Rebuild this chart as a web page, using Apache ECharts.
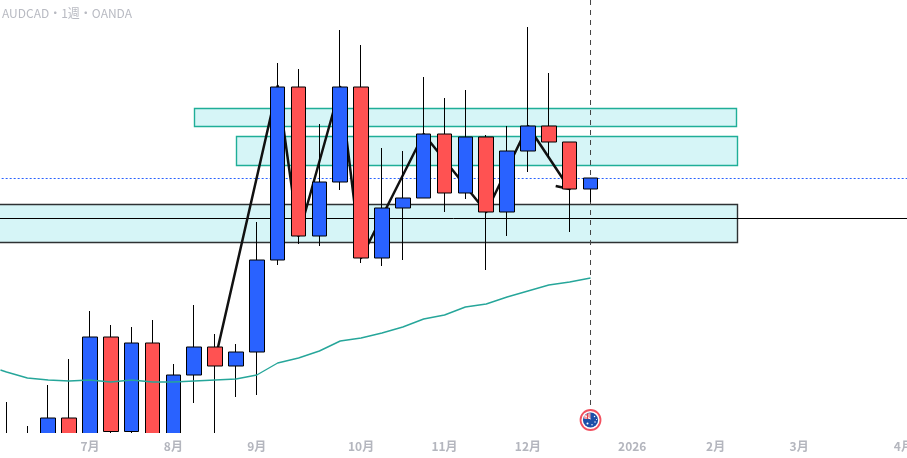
<!DOCTYPE html>
<html>
<head>
<meta charset="utf-8">
<style>html,body{margin:0;padding:0;background:#fff}#c{width:907px;height:458px}</style>
<script src="https://cdn.jsdelivr.net/npm/echarts@6/dist/echarts.min.js"></script>
</head>
<body>
<div id="c"></div>
<script>
const titleText = 'AUDCAD・1週・OANDA';
// one category per week, from the first visible candle out to the right edge
const tickLabels = {4:'7月',8:'8月',12:'9月',17:'10月',21:'11月',25:'12月',30:'2026',34:'2月',38:'3月',43:'4月'};
const weeks = Array.from({length:44},(_, i)=>'w'+i);
// [open, close, low, high]
const ohlc = [
 [.8560,.8620,.8540,.8696],[.8620,.8600,.8580,.8648],[.8600,.8664,.8580,.8730],[.8664,.8610,.8590,.8782],
 [.8610,.8826,.8590,.8878],[.8826,.8637,.8632,.8850],[.8637,.8814,.8632,.8846],[.8814,.8610,.8590,.8860],
 [.8610,.8750,.8590,.8772],[.8750,.8806,.8694,.8890],[.8806,.8768,.8620,.8832],[.8768,.8796,.8706,.8812],
 [.8796,.8980,.8710,.9056],[.8980,.9326,.8970,.9374],[.9326,.9028,.9012,.9362],[.9028,.9136,.9008,.9252],
 [.9136,.9326,.9120,.9440],[.9326,.8984,.8974,.9410],[.8984,.9084,.8968,.9204],[.9084,.9104,.8980,.9198],
 [.9104,.9232,.9104,.9346],[.9232,.9114,.9076,.9304],[.9114,.9226,.9102,.9320],[.9226,.9076,.8960,.9230],
 [.9076,.9198,.9028,.9248],[.9198,.9248,.9156,.9446],[.9248,.9216,.9186,.9354],[.9216,.9122,.9036,.9216],
 [.9122,.9144,.9096,.9144]
];
const zigzag = [[10,.8780],[13,.9328],[14,.9028],[16,.9326],[17,.8984],[20,.9232],[23,.9076],[25,.9248],[27,.9122],[26.33,.9128]];
const emaX = [-0.29,0,1,2,3,4,5,6,7,8,9,10,11,12,13,14,15,16,17,18,19,20,21,22,23,24,25,26,27,28];
const emaValues = [.8760,.8756,.8744,.8740,.8738,.8740,.8736,.8740,.8736,.8736,.8738,.8740,.8742,.8750,.8774,.8784,.8798,.8818,.8824,.8834,.8846,.8862,.8870,.8886,.8892,.8906,.8918,.8930,.8936,.8944];
// [x from, x to, price high, price low]
const tealZones = [[9,35,.9284,.9248],[11,35,.9228,.9170]];
const darkZones = [[-2,35,.9092,.9016]];
const lastPrice = .9143;
const crossPrice = .9063;
const cursorIndex = 28;
const cursorBottom = .8684;
const flagPrice = .8660;
const yMin = .8634, yMax = .9500;

const zoneSeries = (data, stroke, z) => ({
  type:'custom', xAxisIndex:1, yAxisIndex:0, z, silent:true, clip:true, data,
  renderItem(p, api){
    const a = api.coord([api.value(0), api.value(2)]), b = api.coord([api.value(1), api.value(3)]);
    return {type:'rect', shape:{x:Math.round(a[0])+.5, y:Math.round(a[1])+.5, width:Math.round(b[0]-a[0]), height:Math.round(b[1]-a[1])},
      style:{fill:'#d6f5f7', stroke, lineWidth:1.4}};
  },
  encode:{x:[0,1], y:[2,3]}
});

const chart = echarts.init(document.getElementById('c'), null, {renderer:'canvas'});
chart.setOption({
  animation:false,
  backgroundColor:'#ffffff',
  title:{text:titleText, left:2, top:7, padding:0, textStyle:{color:'#b8bac2', fontSize:12, fontWeight:'normal', fontFamily:'"Noto Sans CJK JP","Noto Sans",sans-serif'}},
  grid:{left:-3.9, width:917.7, top:0, height:433, containLabel:false, outerBoundsMode:'none'},
  xAxis:[
    {type:'category', z:10, data:weeks, boundaryGap:true, axisLine:{show:false}, axisTick:{show:false}, splitLine:{show:false},
     axisLabel:{interval:0, margin:7, color:'#b4b6be', fontSize:12, fontWeight:'bold', fontFamily:'"Noto Sans CJK JP","Noto Sans",sans-serif', hideOverlap:false,
       formatter:(v,i)=>tickLabels[i]||''}},
    {type:'value', min:-0.5, max:43.5, show:false}
  ],
  yAxis:{type:'value', min:yMin, max:yMax, show:false, scale:true},
  series:[
    zoneSeries(tealZones,'#1fae98',1),
    zoneSeries(darkZones,'#2e3133',1),
    {type:'line', xAxisIndex:1, z:2, symbol:'none', silent:true, data:[[-1,crossPrice],[44,crossPrice]], lineStyle:{color:'#000',width:1}},
    {type:'line', xAxisIndex:1, z:2, symbol:'none', silent:true, data:[[-1,lastPrice],[44,lastPrice]], lineStyle:{color:'#2962ff',width:1,type:[2,2]}},
    {type:'line', xAxisIndex:1, z:3, symbol:'none', silent:true, data:[[cursorIndex,yMax],[cursorIndex,cursorBottom]], lineStyle:{color:'#444',width:1,type:[5,5]}},
    {type:'line', xAxisIndex:1, z:3, symbol:'none', silent:true, data:zigzag, lineStyle:{color:'#111',width:2.5,join:'round'}},
    {type:'candlestick', z:4, data:ohlc, barWidth:15, clip:true, silent:true,
      itemStyle:{color:'#2962ff', color0:'#ff5252', borderColor:'#000', borderColor0:'#000', borderWidth:1}},
    // masks the part of the candles that runs below the plot's lower edge
    {type:'custom', xAxisIndex:1, z:8, silent:true, clip:false, data:[[-0.5,yMin]], encode:{x:0,y:1},
      renderItem(p, api){
        const c = api.coord([api.value(0), api.value(1)]);
        return {type:'rect', shape:{x:0, y:c[1], width:api.getWidth(), height:api.getHeight()-c[1]}, style:{fill:'#fff'}};
      }},
    {type:'line', xAxisIndex:1, z:5, symbol:'none', silent:true, data:emaX.map((x,i)=>[x,emaValues[i]]), lineStyle:{color:'#26a69a',width:1.4}},
    {type:'custom', xAxisIndex:1, z:6, silent:true, clip:false, data:[[cursorIndex,flagPrice]], encode:{x:0,y:1},
      renderItem(p, api){
        const c = api.coord([api.value(0), api.value(1)]), x=c[0], y=c[1];
        const star=(dx,dy,r)=>({type:'circle',shape:{cx:x+dx,cy:y+dy,r},style:{fill:'#fff'}});
        return {type:'group', children:[
          {type:'circle',shape:{cx:x,cy:y,r:10},style:{fill:'#fff',stroke:'#f2505f',lineWidth:1.8}},
          {type:'circle',shape:{cx:x,cy:y,r:7.6},style:{fill:'#1d4fa8'}},
          {type:'polygon',shape:{points:[[x-7,y-3.5],[x-3,y-6.6],[x,y-7],[x,y-1],[x-6,y-1]]},style:{fill:'#f0a0a8'}},
          {type:'line',shape:{x1:x-6,y1:y-4.5,x2:x,y2:y-1},style:{stroke:'#fff',lineWidth:1}},
          {type:'line',shape:{x1:x-3,y1:y-6.5,x2:x-3,y2:y-1},style:{stroke:'#e2404f',lineWidth:1}},
          star(-3,3.5,1),star(4,-3.5,.7),star(4.5,2,.7),star(1.5,4.8,.7),star(6,-.5,.6)
        ]};
      }}
  ]
});
</script>
</body>
</html>
